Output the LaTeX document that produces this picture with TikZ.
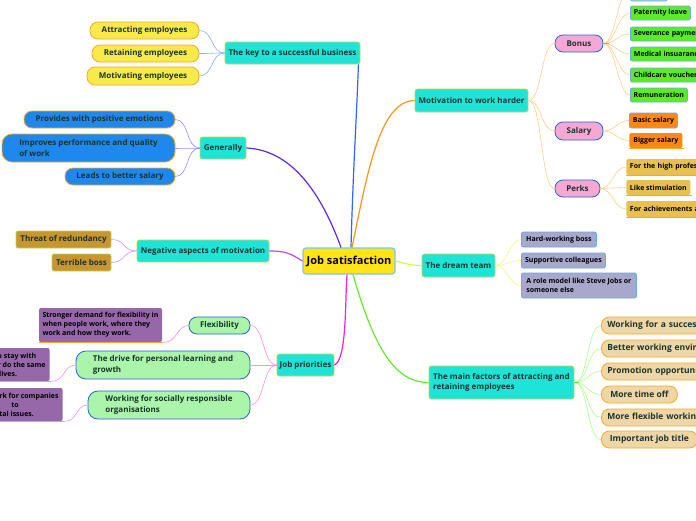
\documentclass[tikz,border=0pt]{standalone}
\usepackage{fontspec}
\setmainfont{Open Sans}
\definecolor{txt}{RGB}{28,52,46}
\definecolor{cyanf}{RGB}{30,228,216}
\definecolor{cyand}{RGB}{190,215,80}
\definecolor{rootf}{RGB}{255,228,26}
\definecolor{rootd}{RGB}{120,200,235}
\definecolor{yelf}{RGB}{248,234,74}
\definecolor{orad}{RGB}{245,170,40}
\definecolor{bluef}{RGB}{30,136,238}
\definecolor{brownf}{RGB}{200,150,46}
\definecolor{brownd}{RGB}{190,210,90}
\definecolor{lgreenf}{RGB}{170,245,170}
\definecolor{blued}{RGB}{40,100,210}
\definecolor{purpf}{RGB}{150,104,170}
\definecolor{pinkf}{RGB}{245,168,213}
\definecolor{greenf}{RGB}{90,236,36}
\definecolor{greend}{RGB}{110,170,220}
\definecolor{orangef}{RGB}{255,136,20}
\definecolor{goldf}{RGB}{232,192,80}
\definecolor{lavf}{RGB}{168,168,204}
\definecolor{tanf}{RGB}{238,214,166}
\definecolor{matf}{RGB}{150,215,225}
\definecolor{cKey}{RGB}{50,100,255}
\definecolor{cKeyL}{RGB}{140,170,255}
\definecolor{cGen}{RGB}{90,40,240}
\definecolor{cGenL}{RGB}{160,140,255}
\definecolor{cNeg}{RGB}{190,70,240}
\definecolor{cNegL}{RGB}{220,140,255}
\definecolor{cJob}{RGB}{255,30,210}
\definecolor{cJobL}{RGB}{255,140,235}
\definecolor{cMot}{RGB}{255,150,20}
\definecolor{cMotL}{RGB}{255,205,140}
\definecolor{cDre}{RGB}{200,255,70}
\definecolor{cDreL}{RGB}{230,255,130}
\definecolor{cFac}{RGB}{100,235,40}
\definecolor{cFacL}{RGB}{170,255,140}
\tikzset{
  bx/.style={draw, line width=0.8pt, text=txt, inner sep=0pt, align=left, font=\fontsize{8}{10.5}\selectfont\bfseries},
  smf/.style={font=\fontsize{7}{9}\selectfont\bfseries, text=black},
  lbox/.style={text width=#1, inner xsep=3.5pt, anchor=west},
  wbox/.style={minimum width=#1, anchor=west},
  main/.style={bx, fill=cyanf, draw=cyand, rounded corners=2.5pt},
  yel/.style={bx, fill=yelf, draw=orad, rounded corners=8pt},
  blu/.style={bx, fill=bluef, draw=orad, rounded corners=8pt},
  brn/.style={bx, fill=brownf, draw=brownd, rounded corners=2pt},
  lgr/.style={bx, fill=lgreenf, draw=blued, rounded corners=8pt},
  prp/.style={bx, smf, fill=purpf, draw=none, rounded corners=2pt},
  pnk/.style={bx, fill=pinkf, draw=blued, rounded corners=8pt},
  grn/.style={bx, smf, fill=greenf, draw=greend, rounded corners=2pt},
  org/.style={bx, smf, fill=orangef, draw=greend, rounded corners=2pt},
  gld/.style={bx, smf, fill=goldf, draw=none, rounded corners=2pt},
  lav/.style={bx, smf, fill=lavf, draw=greend, rounded corners=2pt},
  tan/.style={bx, fill=tanf, draw=orad, rounded corners=8pt, font=\fontsize{8.5}{10}\selectfont\bfseries},
  uline/.style={draw=orad, line width=1.1pt},
  lk/.style={line width=0.6pt},
  rl/.style={line width=1.2pt},
}
\begin{document}
\begin{tikzpicture}[x=1pt,y=-1pt]
\useasboundingbox (0,0) rectangle (696,520);
\clip (0,0) rectangle (696,520);
\fill[white] (0,0) rectangle (696,520);

% root
\node[bx, fill=rootf, draw=rootd, line width=1.2pt, rounded corners=3pt, minimum width=92pt, minimum height=26pt, font=\fontsize{11}{13}\selectfont\bfseries, text=black] (root) at (349,261) {Job satisfaction};

% main branches
\node[main, minimum width=135pt, minimum height=22pt] (key) at (292.5,53) {The key to a successful business};
\node[main, minimum width=46pt, minimum height=22pt] (gen) at (223,148) {Generally};
\node[main, minimum width=132pt, minimum height=22pt] (neg) at (203,251) {Negative aspects of motivation};
\node[main, minimum width=57pt, minimum height=22pt] (jobp) at (305.5,365) {Job priorities};
\node[main, minimum width=113pt, minimum height=23pt] (mot) at (471.5,100.5) {Motivation to work harder};
\node[main, minimum width=73pt, minimum height=23pt] (dream) at (458.5,265.5) {The dream team};
\node[main, minimum width=145pt, minimum height=33pt] (mainf) at (501.5,382.5) {The main factors of attracting and\\retaining employees};

% key children
\node[yel, minimum width=109pt, minimum height=17pt] (att) at (144.5,30.5) {Attracting employees};
\node[yel, minimum width=107pt, minimum height=17pt] (ret) at (145.5,53.5) {Retaining employees};
\node[yel, minimum width=112pt, minimum height=18pt] (motv) at (143,76) {Motivating employees};
\foreach \c in {att,ret,motv}
  \draw[cKeyL, lk] (\c.east) .. controls +(14,0) and +(-14,0) .. (key.west);

% generally children
\node[blu, minimum width=151pt, minimum height=17pt] (prov) at (99.5,119.5) {Provides with positive emotions};
\node[blu, minimum width=173pt, minimum height=28pt, rounded corners=10pt] (impr) at (88.5,148) {Improves performance and quality\\of work};
\node[blu, minimum width=110pt, minimum height=17pt] (leads) at (120,176.5) {Leads to better salary};
\foreach \c in {prov,impr,leads}
  \draw[cGenL, lk] (\c.east) .. controls +(14,0) and +(-14,0) .. (gen.west);

% negative children
\node[brn, minimum width=95pt, minimum height=17pt] (threat) at (63.5,239.5) {Threat of redundancy};
\node[brn, minimum width=59pt, minimum height=17pt] (terr) at (81.5,262.5) {Terrible boss};
\foreach \c in {threat,terr}
  \draw[cNegL, lk] (\c.east) .. controls +(14,0) and +(-14,0) .. (neg.west);

% job priorities children
\node[lgr, minimum width=61pt, minimum height=17pt] (flex) at (219.5,325.5) {Flexibility};
\node[lgr, minimum width=174pt, minimum height=28pt, rounded corners=10pt] (drive) at (163,365) {The drive for personal learning and\\growth};
\node[lgr, minimum width=162pt, minimum height=28pt, rounded corners=10pt] (work) at (169,405) {Working for socially responsible\\organisations};
\foreach \c in {flex,drive,work}
  \draw[cJobL, lk] (\c.east) .. controls +(14,0) and +(-14,0) .. (jobp.west);

% purple boxes
\node[prp, minimum width=123pt, minimum height=34pt] (strong) at (100.5,325) {Stronger demand for flexibility in\\when people work, where they\\work and how they work.};
\node[prp, anchor=east, inner xsep=4pt, minimum height=33pt] (pb) at (50,364.5) {o stay with\\r do the same\\\hspace*{1.5pt}lives.};
\node[prp, anchor=east, inner xsep=4pt, minimum height=33pt] (pc) at (63,404.5) {rk for companies\\\hspace*{12pt}to\\tal issues.};
\draw[uline] (strong.south west) -- ([xshift=1pt]strong.south east);
\draw[uline] (pb.south west) -- ([xshift=1pt]pb.south east);
\draw[uline] (pc.south west) -- ([xshift=1pt]pc.south east);
\draw[cJobL, lk] ([xshift=1pt]strong.south east) .. controls +(14,0) and +(-12,0) .. (flex.west);
\draw[cJobL, lk] ([xshift=1pt]pb.south east) .. controls +(14,0) and +(-12,0) .. (drive.west);
\draw[cJobL, lk] ([xshift=1pt]pc.south east) .. controls +(14,0) and +(-12,0) .. (work.west);

% motivation children
\node[pnk, minimum width=48pt, minimum height=17pt] (bonus) at (579,43.5) {Bonus};
\node[pnk, minimum width=48pt, minimum height=18pt] (salary) at (579,131) {Salary};
\node[pnk, minimum width=45pt, minimum height=17pt] (perks) at (577.5,188.5) {Perks};
\foreach \c in {bonus,salary,perks}
  \draw[cMotL, lk] (mot.east) .. controls +(14,0) and +(-14,0) .. (\c.west);

% bonus children
\node[grn, fill=matf, wbox=37pt, minimum height=24pt] (mat) at (630,-11) {};
\node[grn, wbox=60pt, minimum height=14pt] (pat) at (630,13) {Paternity leave};
\node[grn, lbox=90pt, minimum height=14pt] (sev) at (630,34) {Severance payment};
\node[grn, lbox=90pt, minimum height=14pt] (med) at (630,54) {Medical insuarance};
\node[grn, lbox=90pt, minimum height=14pt] (child) at (630,75) {Childcare vouchers};
\node[grn, wbox=57pt, minimum height=14pt] (remu) at (630,95) {Remuneration};
\foreach \c in {mat,pat,sev,med,child,remu}
  \draw[cMotL, lk] (bonus.east) .. controls +(12,0) and +(-12,0) .. (\c.west);
\draw[cMot, line width=1pt] (bonus.east) -- +(6,0);

% salary children
\node[org, wbox=48pt, minimum height=15pt] (basic) at (629,120.5) {Basic salary};
\node[org, draw=none, wbox=53pt, minimum height=15pt] (bigger) at (629,140.5) {Bigger salary};
\draw[uline] (bigger.south west) -- ([xshift=1pt]bigger.south east);
\foreach \c in {basic,bigger}
  \draw[cMotL, lk] (salary.east) .. controls +(12,0) and +(-12,0) .. (\c.west);

% perks children
\node[gld, lbox=130pt, minimum height=16pt] (high) at (626,167) {For the high professional level};
\node[gld, wbox=64pt, minimum height=15pt] (like) at (626,187.5) {Like stimulation};
\node[gld, lbox=130pt, minimum height=16pt] (ach) at (626,209) {For achievements and results};
\foreach \c in {high,like,ach}{
  \draw[uline] (\c.south west) -- ([xshift=1pt]\c.south east);
  \draw[cMotL, lk] (perks.east) .. controls +(12,0) and +(-12,0) .. (\c.west);
}

% dream team children
\node[lav, wbox=75pt, minimum height=15pt] (hard) at (521,239.5) {Hard-working boss};
\node[lav, wbox=84pt, minimum height=15pt] (supp) at (521,260.5) {Supportive colleagues};
\node[lav, wbox=115pt, minimum height=25pt] (role) at (521,285.5) {A role model like Steve Jobs or\\someone else};
\foreach \c in {hard,supp,role}
  \draw[cDreL, lk] (dream.east) .. controls +(12,0) and +(-12,0) .. (\c.west);

% main factors children
\node[tan, lbox=150pt, inner xsep=6pt, minimum height=17pt] (f1) at (601,325.5) {Working for a successful company};
\node[tan, lbox=150pt, inner xsep=6pt, minimum height=17pt] (f2) at (601,348.5) {Better working environment};
\node[tan, lbox=150pt, inner xsep=6pt, minimum height=17pt] (f3) at (601,371.5) {Promotion opportunities};
\node[tan, wbox=76pt, minimum height=17pt] (f4) at (601,394.5) {More time off};
\node[tan, lbox=150pt, inner xsep=6pt, minimum height=17pt] (f5) at (601,417.5) {More flexible working hours};
\node[tan, wbox=96pt, minimum height=17pt] (f6) at (601,439.5) {Important job title};
\foreach \c in {f1,f2,f3,f4,f5,f6}
  \draw[cFacL, lk] (mainf.east) .. controls +(14,0) and +(-14,0) .. (\c.west);
\draw[cFac, line width=1pt] (mainf.east) -- +(5,0);

% root connectors
\draw[cKey, rl] ([xshift=2pt]root.north) .. controls (353,170) and (357,110) .. ([xshift=-2pt]key.south east);
\draw[cGen, rl] (gen.east) .. controls (290,150) and (320,190) .. ([xshift=-8pt]root.north);
\draw[cNeg, rl] (neg.east) .. controls (285,251) and (290,253) .. (root.west);
\draw[cJob, rl] (jobp.east) .. controls (347,360) and (345,300) .. ([xshift=-2pt]root.south);
\draw[cMot, rl] ([xshift=3pt]root.north) .. controls (368,170) and (380,101) .. (mot.west);
\draw[cDre, rl] (root.east) .. controls (408,264) and (410,265.5) .. (dream.west);
\draw[cFac, rl] ([xshift=4pt]root.south) .. controls (372,340) and (392,383) .. (mainf.west);
\end{tikzpicture}
\end{document}
